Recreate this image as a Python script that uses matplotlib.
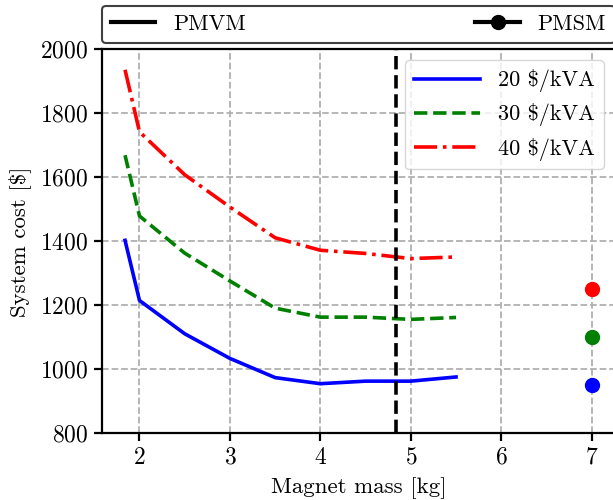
import numpy as np
import matplotlib
matplotlib.use("Agg")
import matplotlib.pyplot as plt
from matplotlib.lines import Line2D

plt.rcParams['font.family'] = 'cmr10'
plt.rcParams['mathtext.fontset'] = 'cm'
plt.rcParams['axes.formatter.use_mathtext'] = True
plt.rcParams['axes.unicode_minus'] = False
plt.rcParams['font.size'] = 16

# Magnet mass sweep for the PMVM designs [kg]
mass = [1.84, 2.0, 2.5, 3.0, 3.5, 4.0, 4.5, 5.0, 5.5]

# System cost for each magnet price [$]
cost_20 = [1403, 1215, 1111, 1034, 974, 955, 963, 963, 976]
cost_30 = [1669, 1479, 1363, 1276, 1191, 1163, 1163, 1156, 1162]
cost_40 = [1936, 1742, 1608, 1507, 1411, 1372, 1362, 1346, 1351]

# PMSM reference design
pmsm_mass = 7.0
pmsm_cost = [950, 1100, 1250]

# selected PMVM design
pmvm_mass = 4.84

prices = ['20 $/kVA', '30 $/kVA', '40 $/kVA']
colors = ['blue', 'green', 'red']
styles = ['-', '--', '-.']

fig = plt.figure(figsize=(6.13, 5.0), dpi=100)
ax = fig.add_axes([0.1659, 0.1334, 0.8374, 0.768])

for c, lab, col, ls in zip([cost_20, cost_30, cost_40], prices, colors, styles):
    ax.plot(mass, c, ls=ls, color=col, lw=2.6, label=lab)

for c, col in zip(pmsm_cost, colors):
    ax.plot(pmsm_mass, c, 'o', color=col, ms=10)

ax.axvline(pmvm_mass, color='k', ls='--', lw=2.6)

ax.set_ylim(800, 2000)
ax.set_xticks([2, 3, 4, 5, 6, 7])
ax.set_yticks(np.arange(800, 2001, 200))
ax.grid(True, ls='--', color='#b0b0b0', lw=1.3)
ax.set_axisbelow(True)
for s in ax.spines.values():
    s.set_linewidth(1.6)
ax.tick_params(width=1.6, length=6, labelsize=17)

ax.set_xlabel('Magnet mass [kg]', fontsize=16.5, labelpad=6)
ax.set_ylabel('System cost [$]', fontsize=16.5, labelpad=7)

leg = ax.legend(loc='upper right', handlelength=3.0)
ax.add_artist(leg)

# machine type legend on top of the axes
handles = [Line2D([], [], color='k', lw=3),
           Line2D([], [], color='k', lw=3, marker='o', ms=10)]
top = ax.legend(handles, ['PMVM', 'PMSM'], loc='lower left', ncol=2,
                mode='expand', bbox_to_anchor=(0, 1.016, 1, 0.1),
                borderaxespad=0, framealpha=1, edgecolor='0.25')
top.get_frame().set_linewidth(1.5)

fig.savefig('out.png', dpi=100)
